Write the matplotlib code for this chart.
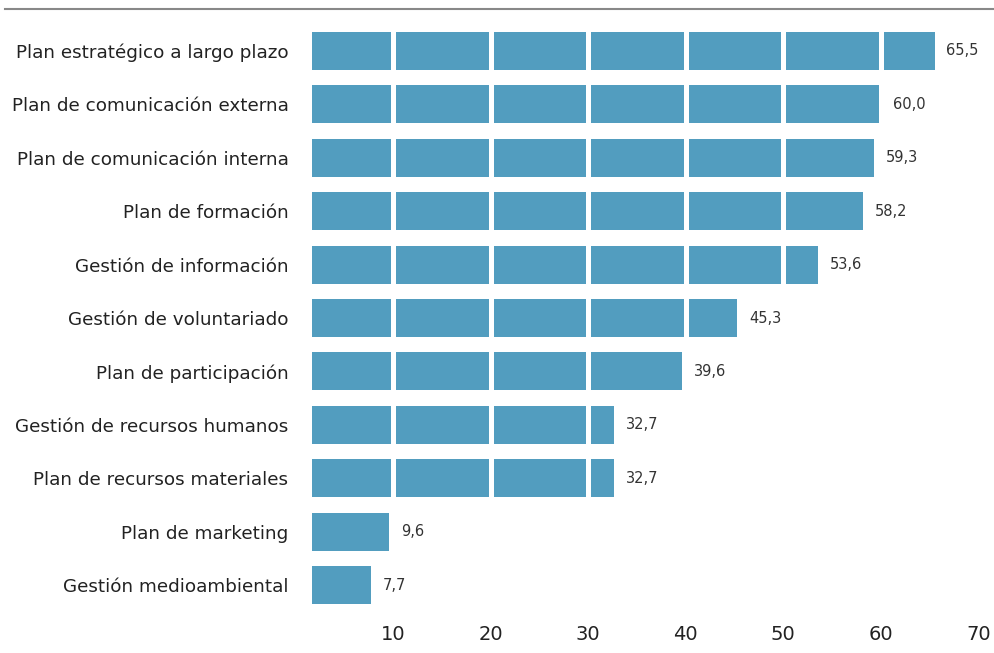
import matplotlib.pyplot as plt
from matplotlib.lines import Line2D

categories = ['Plan estratégico a largo plazo', 'Plan de comunicación externa',
              'Plan de comunicación interna', 'Plan de formación',
              'Gestión de información', 'Gestión de voluntariado',
              'Plan de participación', 'Gestión de recursos humanos',
              'Plan de recursos materiales', 'Plan de marketing',
              'Gestión medioambiental']
values = [65.5, 60.0, 59.3, 58.2, 53.6, 45.3, 39.6, 32.7, 32.7, 9.6, 7.7]
xticks = [10, 20, 30, 40, 50, 60, 70]

plt.rcParams['font.family'] = ['DejaVu Sans']

fig = plt.figure(figsize=(9.95, 6.53), dpi=100)
ax = fig.add_axes([0.3136, 0.055, 0.6864, 0.916])

pos = list(range(len(categories)))
ax.barh(pos, values, height=0.71, color='#529dbf', zorder=1)
ax.xaxis.grid(True, color='white', linewidth=3.6, zorder=2)
ax.set_axisbelow(False)

for p, v in zip(pos, values):
    ax.text(v + 1.2, p, f'{v:.1f}'.replace('.', ','), va='center', ha='left',
            fontsize=10.5, color='#333333')

ax.set_xlim(1.7, 71.7)
ax.set_ylim(10.6, -0.6)
ax.set_xticks(xticks)
ax.set_xticklabels([str(t) for t in xticks], fontsize=14, color='#222222')
ax.set_yticks(pos)
ax.set_yticklabels(categories, fontsize=13.2, color='#222222')
ax.tick_params(axis='y', length=0, pad=17)
ax.tick_params(axis='x', length=0, pad=6)
for s in ax.spines.values():
    s.set_visible(False)

# top rule under the (cropped) title
fig.add_artist(Line2D([5 / 995, 1.0], [1 - 9 / 653, 1 - 9 / 653],
                      color='#888888', linewidth=1.5, transform=fig.transFigure))

plt.savefig('out.png', dpi=100)
